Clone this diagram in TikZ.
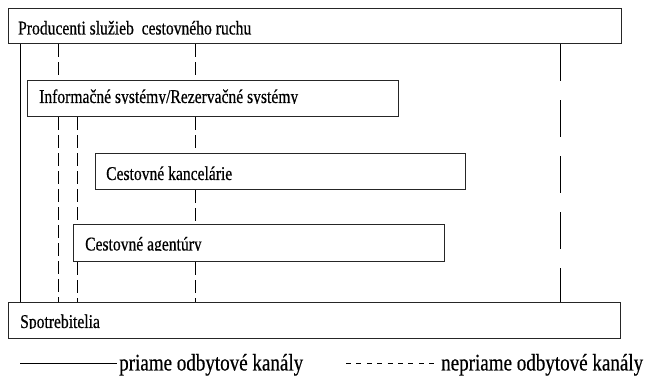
\documentclass[tikz,border=0pt]{standalone}
\usepackage{fontspec}
\setmainfont{Liberation Serif}[FakeStretch=0.8,FakeBold=0.5]
\begin{document}
\begin{tikzpicture}[x=1pt,y=-1pt,
  box/.style={draw=black!85, line width=1.3pt, rectangle, inner sep=0pt, anchor=north west},
  lbl/.style={anchor=base west, inner sep=0pt, font=\fontsize{19.5}{20}\selectfont},
  leg/.style={anchor=base west, inner sep=0pt, font=\fontsize{23.8}{24}\selectfont},
  conn/.style={line width=0.9pt, black},
  sdash/.style={conn, dash pattern=on 13pt off 5pt},
  ldash/.style={conn, dash pattern=on 37pt off 19pt},
  ldot/.style={conn, dash pattern=on 5pt off 5.4pt}]
\useasboundingbox (0,0) rectangle (646,379);
% boxes
\node[box, minimum width=613pt, minimum height=35pt] (prod) at (8,8) {};
\node[box, minimum width=371pt, minimum height=36pt] (info) at (27,80) {};
\node[box, minimum width=370pt, minimum height=36pt] (kanc) at (95,153) {};
\node[box, minimum width=371pt, minimum height=37pt] (agen) at (73,224) {};
\node[box, minimum width=612pt, minimum height=36pt] (spot) at (8,302) {};
% texts
\node[lbl] (prodT) at (18,34.5) {Producenti služieb\ \ cestovného ruchu};
\begin{scope}
  \clip (0,80) rectangle (646,103.5);
  \node[lbl] (infoT) at (39,103) {Informačné systémy/Rezervačné systémy};
\end{scope}
\node[lbl] (kancT) at (106,180) {Cestovné kancelárie};
\begin{scope}
  \clip (0,224) rectangle (646,251);
  \node[lbl] (agenT) at (85,250.5) {Cestovné agentúry};
\end{scope}
\begin{scope}
  \clip (0,302) rectangle (646,328.5);
  \node[lbl] (spotT) at (20,328) {Spotrebitelia};
\end{scope}
% connector x positions
\coordinate (xa) at (20,0);
\coordinate (xb) at (58,0);
\coordinate (xc) at (77,0);
\coordinate (xd) at (195,0);
\coordinate (xe) at (560,0);
% connectors
\draw[conn] (prod.south -| xa) -- (spot.north -| xa);
\draw[sdash] (prod.south -| xb) -- (info.north -| xb);
\draw[sdash] (info.south -| xb) -- (spot.north -| xb);
\draw[sdash] (info.south -| xc) -- (agen.north -| xc);
\draw[sdash] (agen.south -| xc) -- (spot.north -| xc);
\draw[sdash] (prod.south -| xd) -- (info.north -| xd);
\draw[sdash] (info.south -| xd) -- (kanc.north -| xd);
\draw[sdash] (kanc.south -| xd) -- (agen.north -| xd);
\draw[sdash] (agen.south -| xd) -- (spot.north -| xd);
\draw[ldash] (prod.south -| xe) -- (spot.north -| xe);
% legend
\coordinate (l1) at (20,363);
\coordinate (l2) at (117,363);
\coordinate (l3) at (346,363);
\coordinate (l4) at (438,363);
\draw[conn] (l1) -- (l2);
\node[leg] (legA) at (119,370.5) {priame odbytové kanály};
\draw[ldot] (l3) -- (l4);
\node[leg] (legB) at (441,370.5) {nepriame odbytové kanály};
\end{tikzpicture}
\end{document}
